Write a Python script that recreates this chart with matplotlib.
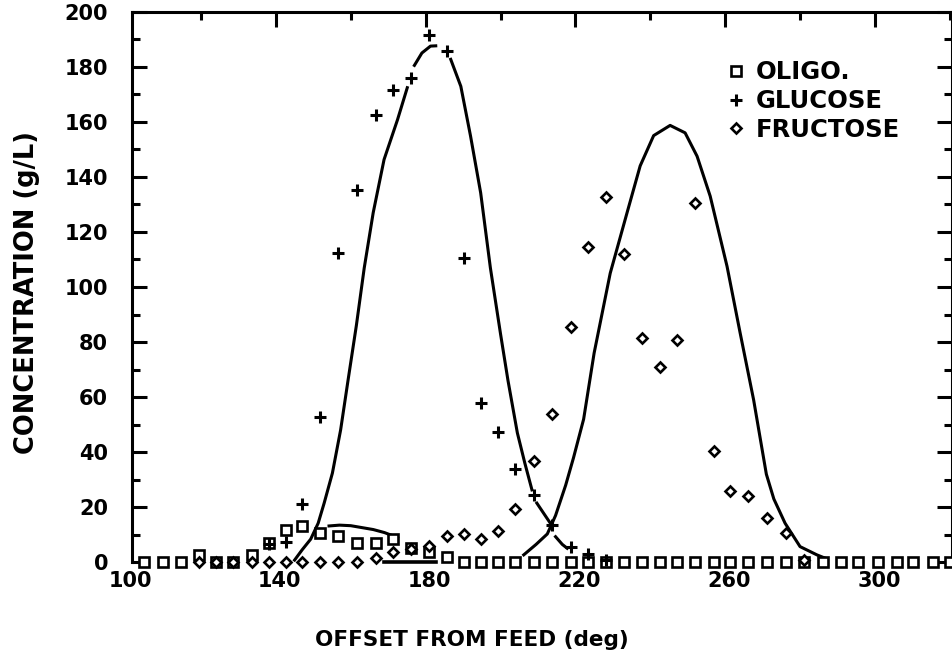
import numpy as np
import matplotlib
matplotlib.use("Agg")
import matplotlib.pyplot as plt
from matplotlib.ticker import MultipleLocator, FixedLocator
from matplotlib.transforms import ScaledTranslation

plt.rcParams["font.family"] = ["DejaVu Sans"]
plt.rcParams["font.weight"] = "bold"

nan = np.nan

# =====================================================
# DATA
# =====================================================
offset = [104.9, 109.8, 114.7, 119.6, 124.0, 128.6, 133.6, 138.2, 142.7, 147.1,
          151.8, 156.6, 161.6, 166.7, 171.4, 176.2, 180.9, 185.8, 190.2, 194.7,
          199.3, 204.0, 208.9, 213.8, 218.7, 223.3, 228.3, 232.9, 237.8, 242.5,
          247.1, 252.0, 256.9, 261.3, 266.2, 271.1, 276.3, 281.1, 286.1, 290.9,
          295.6, 300.9, 305.8, 310.2, 315.6, 320.0]

oligo = [0, 0, 0, 2.7, 0, 0, 2.7, 7.1, 11.7, 13.3,
         10.8, 9.6, 7.1, 7.1, 8.4, 5.1, 3.9, 2.0, 0, 0,
         0, 0, 0, 0, 0, 0, 0, 0, 0, 0,
         0, 0, 0, 0, 0, 0, 0, 0, 0, 0,
         0, 0, 0, 0, 0, 0]

glucose = [nan, nan, nan, nan, nan, nan, nan, 6.5, 7.3, 21.2,
           52.6, 112.4, 135.4, 162.4, 171.5, 176.0, 191.4, 185.9, 110.4, 58.0,
           47.5, 33.9, 24.4, 13.7, 5.7, 2.9, 0.8, nan, nan, nan,
           nan, nan, nan, nan, nan, nan, nan, nan, nan, nan,
           nan, nan, nan, nan, nan, nan]

fructose = [nan, nan, nan, 0, 0, 0, 0, 0, 0, 0,
            0, 0, 0, 1.5, 3.6, 5.0, 6.0, 9.5, 10.3, 8.6,
            11.4, 19.5, 36.7, 54.0, 85.3, 114.7, 132.7, 112.0, 81.3, 70.8,
            80.6, 130.5, 40.6, 26.0, 24.1, 16.0, 10.8, 1.0, nan, nan,
            nan, nan, nan, nan, nan, nan]

# model curves (traced, nan = gap in the drawn line)
glu_fit_x = [145.0, 147.0, 149.3, 151.3, 152.9, 155.1, 157.3, 159.3, 161.5, 163.6,
             166.0, 168.9, 172.5, 175.1, nan, 177.0, 179.0, 181.3, 182.7, nan,
             186.7, 189.4, 192.0, 194.7, 197.3, 200.0, 202.0, 204.5, 206.5, 208.4,
             nan, 209.7, 213.3, nan, 214.7, 216.5, 217.8]
glu_fit_y = [0.8, 4.5, 8.4, 14.2, 21.5, 32.4, 48.1, 66.3, 86.0, 106.9,
             127.0, 146.3, 160.8, 172.4, nan, 180.5, 185.0, 187.5, 187.6, nan,
             182.7, 172.9, 154.8, 134.2, 106.9, 83.0, 66.0, 47.0, 36.0, 26.3,
             nan, 21.5, 14.2, nan, 9.3, 6.5, 5.1]

fru_fit_x = [206.2, 209.5, 212.5, 214.7, 217.4, 219.5, 222.2, 225.0, 229.3, 233.8,
             237.3, 240.9, 245.3, 249.3, 252.5, 256.0, 260.5, 264.0, 267.6, 271.0,
             273.0, 276.0, 280.0, 284.5, 286.7]
fru_fit_y = [2.7, 6.5, 10.3, 17.0, 28.0, 38.0, 52.0, 76.0, 105.0, 127.0,
             144.0, 155.0, 158.7, 156.0, 147.5, 133.0, 107.5, 83.3, 59.0, 32.0,
             23.0, 14.2, 5.7, 2.7, 1.5]

oli_fit_x = [154.2, 157.0, 160.0, 163.0, 166.0, 169.0, 171.5, 172.5]
oli_fit_y = [13.2, 13.5, 13.3, 12.6, 11.9, 10.8, 9.5, 8.9]

base_x = [168.9, 182.7]
base_y = [0, 0]

# =====================================================
# PLOT
# =====================================================
fig = plt.figure(figsize=(9.52, 6.62), dpi=100)
ax = fig.add_axes([131.7 / 952, 1 - 562.3 / 662, 820 / 952, 550.6 / 662])

ax.plot(glu_fit_x, glu_fit_y, color="black", lw=2.2)
ax.plot(fru_fit_x, fru_fit_y, color="black", lw=2.2)
ax.plot(oli_fit_x, oli_fit_y, color="black", lw=2.2)
ax.plot(base_x, base_y, color="black", lw=2.6, clip_on=False)

ax.plot(offset, oligo, ls="none", marker="s", ms=7.5, mew=1.9,
        mfc="white", mec="black", label="OLIGO.", zorder=4, clip_on=False)
ax.plot(offset, glucose, ls="none", marker="+", ms=8.5, mew=2.2,
        color="black", label="GLUCOSE", zorder=5, clip_on=False)
ax.plot(offset, fructose, ls="none", marker="D", ms=5.6, mew=1.9,
        mfc="white", mec="black", label="FRUCTOSE", zorder=4, clip_on=False)

ax.set_xlim(101.5, 320.5)
ax.set_ylim(0, 200)

ax.xaxis.set_major_locator(FixedLocator([140, 180, 220, 260, 300]))
ax.xaxis.set_minor_locator(MultipleLocator(20))
ax.yaxis.set_major_locator(MultipleLocator(20))
ax.yaxis.set_minor_locator(MultipleLocator(10))

ax.tick_params(axis="x", which="both", bottom=False, top=True, direction="in",
               labelsize=15, pad=6)
ax.tick_params(axis="x", which="major", length=11, width=2.2)
ax.tick_params(axis="x", which="minor", length=6, width=2.2)
ax.tick_params(axis="y", which="both", left=True, right=True, direction="in",
               labelsize=15, pad=17)
ax.tick_params(axis="y", which="major", length=10.5, width=2.2)
ax.tick_params(axis="y", which="minor", length=5.5, width=2.2)

# labels on the old plot sit a little right of their ticks
shift = ScaledTranslation(4 / 100, 0, fig.dpi_scale_trans)
for lbl in ax.get_xticklabels():
    lbl.set_transform(lbl.get_transform() + shift)

# "100" sits just left of the frame, so it is added by hand
ax.annotate("100", xy=(100, 0), xycoords=ax.get_xaxis_transform(),
            xytext=(3, -6), textcoords="offset points",
            ha="center", va="top", fontsize=15, annotation_clip=False)

for side in ["left", "top", "right"]:
    ax.spines[side].set_linewidth(2.2)
ax.spines["bottom"].set_visible(False)

fig.text(472 / 952, 1 - 640 / 662, "OFFSET FROM FEED (deg)",
         ha="center", va="center", fontsize=15.5)
fig.text(27 / 952, 1 - 292 / 662, "CONCENTRATION (g/L)",
         ha="center", va="center", rotation=90, fontsize=18.5)

ax.legend(loc="upper left", bbox_to_anchor=(0.727, 0.912), frameon=False,
          fontsize=17.5, handlelength=0.7, handletextpad=0.45, labelspacing=0.2,
          borderpad=0, borderaxespad=0)

fig.savefig("out.png", dpi=100)
